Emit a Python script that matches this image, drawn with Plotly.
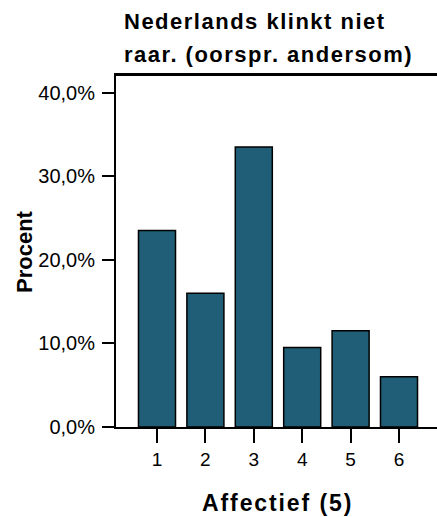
import plotly.graph_objects as go

categories = [1, 2, 3, 4, 5, 6]
tick_labels = ["1", "2", "3", "4", "5", "6"]
values = [23.5, 16.0, 33.5, 9.5, 11.5, 6.0]
y_ticks = [0, 10, 20, 30, 40]
y_tick_labels = [("%.1f%%" % v).replace(".", ",") for v in y_ticks]
title_lines = ["Nederlands klinkt niet", "raar. (oorspr. andersom)"]
x_title = "Affectief (5)"
y_title = "Procent"

W, H = 437, 517
L, R, T, B = 116, 0, 75, 90
pw, ph = W - L - R, H - T - B

fig = go.Figure(go.Bar(
    x=categories, y=values, width=0.765,
    marker=dict(color="#1f5e76", line=dict(color="black", width=1.5)),
))

font = "Liberation Sans, Arial, sans-serif"
fig.update_layout(
    width=W, height=H, margin=dict(l=L, r=R, t=T, b=B),
    plot_bgcolor="white", paper_bgcolor="white",
    showlegend=False,
    font=dict(family=font, color="black", size=16),
)
fig.update_xaxes(
    range=[0.153, 6.785], tickvals=categories, ticktext=tick_labels,
    ticks="outside", ticklen=14, tickwidth=2, tickcolor="black",
    showline=True, linewidth=2, linecolor="black", mirror=True,
    showgrid=False, zeroline=False, tickfont=dict(size=19),
)
fig.update_yaxes(
    range=[0, 42.1], tickvals=y_ticks, ticktext=y_tick_labels,
    ticks="outside", ticklen=12, tickwidth=2, tickcolor="black",
    showline=True, linewidth=2, linecolor="black", mirror=False,
    showgrid=False, zeroline=False, tickfont=dict(size=20),
    ticklabelstandoff=3,
)
# top frame of the plot area (2 px band just at the top edge)
fig.add_shape(type="rect", xref="paper", yref="paper", x0=-0.003, x1=1, y0=0.997, y1=1.003,
              fillcolor="black", line=dict(width=0), layer="above")

def px(xp):
    return (xp - L) / pw

def py(yp):
    return (H - B - yp) / ph

def spaced(t, sp):
    return '<span style="letter-spacing:%.1fpx"><b>%s</b></span>' % (sp, t)

anns = [
    dict(text=spaced(title_lines[0], 1.5), x=px(122), y=py(21.5), xanchor="left", yanchor="middle", font=dict(size=22)),
    dict(text=spaced(title_lines[1], 1.5), x=px(122), y=py(55), xanchor="left", yanchor="middle", font=dict(size=22)),
    dict(text=spaced(x_title, 1.9), x=px(277.5), y=py(503), xanchor="center", yanchor="middle", font=dict(size=23)),
    dict(text="<b>%s</b>" % y_title, x=px(24), y=py(252), xanchor="center", yanchor="middle", textangle=-90, font=dict(size=22)),
]
for a in anns:
    a.update(xref="paper", yref="paper", showarrow=False)
fig.update_layout(annotations=anns)

fig.write_html("out.html", config={"displayModeBar": False},
               post_script=["document.body.style.margin='0px';"])
